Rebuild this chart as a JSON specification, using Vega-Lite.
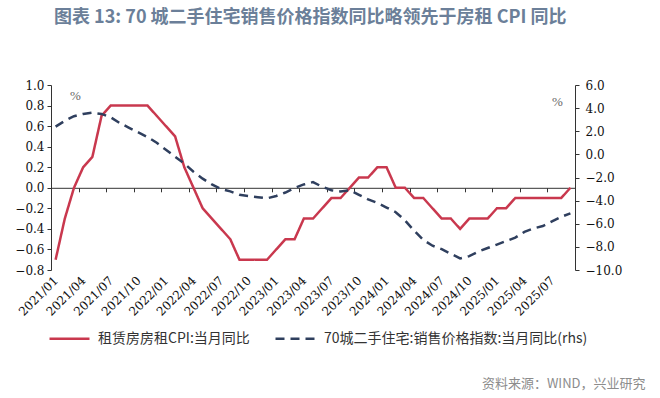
{
  "$schema": "https://vega.github.io/schema/vega-lite/v6.json",
  "width": 524,
  "height": 185,
  "autosize": {"type": "none"},
  "padding": {"left": 51, "top": 85, "right": 85, "bottom": 128},
  "background": "white",
  "title": {
    "text": "图表 13: 70 城二手住宅销售价格指数同比略领先于房租 CPI 同比",
    "anchor": "start",
    "frame": "group",
    "dx": 3,
    "offset": 52,
    "font": "Noto Sans CJK SC",
    "fontSize": 18,
    "fontWeight": "bold",
    "color": "#6b7f99"
  },
  "config": {
    "view": {"stroke": null},
    "axis": {
      "grid": false,
      "domainColor": "#333333",
      "tickColor": "#333333",
      "labelFont": "DejaVu Serif",
      "labelFontSize": 12,
      "labelColor": "#111111"
    },
    "legend": {
      "orient": "none",
      "legendX": -3,
      "legendY": 232,
      "direction": "horizontal",
      "symbolType": "stroke",
      "symbolSize": 1600,
      "symbolStrokeWidth": 2.5,
      "labelFont": "Noto Sans CJK SC",
      "labelFontSize": 14,
      "labelColor": "#333333",
      "labelLimit": 400,
      "columnPadding": 20,
      "labelOffset": 7
    }
  },
  "data": {
    "values": [
      {"d": "2021/01", "a": -0.7, "b": 2.4},
      {"d": "2021/02", "a": -0.3, "b": 2.9},
      {"d": "2021/03", "a": 0.0, "b": 3.3},
      {"d": "2021/04", "a": 0.2, "b": 3.5},
      {"d": "2021/05", "a": 0.3, "b": 3.6},
      {"d": "2021/06", "a": 0.7, "b": 3.5},
      {"d": "2021/07", "a": 0.8, "b": 3.2},
      {"d": "2021/08", "a": 0.8, "b": 2.7},
      {"d": "2021/09", "a": 0.8, "b": 2.3},
      {"d": "2021/10", "a": 0.8, "b": 1.9},
      {"d": "2021/11", "a": 0.8, "b": 1.5},
      {"d": "2021/12", "a": 0.7, "b": 1.0},
      {"d": "2022/01", "a": 0.6, "b": 0.4},
      {"d": "2022/02", "a": 0.5, "b": -0.2},
      {"d": "2022/03", "a": 0.2, "b": -0.8},
      {"d": "2022/04", "a": 0.0, "b": -1.5},
      {"d": "2022/05", "a": -0.2, "b": -2.1},
      {"d": "2022/06", "a": -0.3, "b": -2.6},
      {"d": "2022/07", "a": -0.4, "b": -3.0},
      {"d": "2022/08", "a": -0.5, "b": -3.2},
      {"d": "2022/09", "a": -0.7, "b": -3.5},
      {"d": "2022/10", "a": -0.7, "b": -3.6},
      {"d": "2022/11", "a": -0.7, "b": -3.7},
      {"d": "2022/12", "a": -0.7, "b": -3.8},
      {"d": "2023/01", "a": -0.6, "b": -3.6},
      {"d": "2023/02", "a": -0.5, "b": -3.3},
      {"d": "2023/03", "a": -0.5, "b": -2.9},
      {"d": "2023/04", "a": -0.3, "b": -2.6},
      {"d": "2023/05", "a": -0.3, "b": -2.4},
      {"d": "2023/06", "a": -0.2, "b": -2.8},
      {"d": "2023/07", "a": -0.1, "b": -3.1},
      {"d": "2023/08", "a": -0.1, "b": -3.2},
      {"d": "2023/09", "a": 0.0, "b": -3.1},
      {"d": "2023/10", "a": 0.1, "b": -3.5},
      {"d": "2023/11", "a": 0.1, "b": -3.9},
      {"d": "2023/12", "a": 0.2, "b": -4.2},
      {"d": "2024/01", "a": 0.2, "b": -4.6},
      {"d": "2024/02", "a": 0.0, "b": -5.0},
      {"d": "2024/03", "a": 0.0, "b": -5.7},
      {"d": "2024/04", "a": -0.1, "b": -6.6},
      {"d": "2024/05", "a": -0.1, "b": -7.4},
      {"d": "2024/06", "a": -0.2, "b": -7.9},
      {"d": "2024/07", "a": -0.3, "b": -8.2},
      {"d": "2024/08", "a": -0.3, "b": -8.6},
      {"d": "2024/09", "a": -0.4, "b": -9.0},
      {"d": "2024/10", "a": -0.3, "b": -8.8},
      {"d": "2024/11", "a": -0.3, "b": -8.4},
      {"d": "2024/12", "a": -0.3, "b": -8.1},
      {"d": "2025/01", "a": -0.2, "b": -7.8},
      {"d": "2025/02", "a": -0.2, "b": -7.5},
      {"d": "2025/03", "a": -0.1, "b": -7.2},
      {"d": "2025/04", "a": -0.1, "b": -6.7},
      {"d": "2025/05", "a": -0.1, "b": -6.4},
      {"d": "2025/06", "a": -0.1, "b": -6.2},
      {"d": "2025/07", "a": -0.1, "b": -5.8},
      {"d": "2025/08", "a": -0.1, "b": -5.4},
      {"d": "2025/09", "a": 0.0, "b": -5.1}
    ]
  },
  "transform": [{"fold": ["a", "b"], "as": ["s", "v"]}],
  "layer": [
    {
      "transform": [{"filter": "datum.s === 'a'"}],
      "mark": {"type": "line", "strokeWidth": 2.5},
      "encoding": {
        "x": {
          "field": "d", "type": "ordinal", "sort": null,
          "scale": {"type": "point", "padding": 0.5},
          "axis": {
            "orient": "bottom",
            "offset": 0,
            "domain": false,
            "ticks": false,
            "labelAngle": -45,
            "labelAlign": "right",
            "labelBaseline": "middle",
            "labelPadding": 8,
            "values": ["2021/01","2021/04","2021/07","2021/10","2022/01","2022/04","2022/07","2022/10","2023/01","2023/04","2023/07","2023/10","2024/01","2024/04","2024/07","2024/10","2025/01","2025/04","2025/07"],
            "title": "资料来源：WIND，兴业研究",
            "titleX": 594,
            "titleY": 113,
            "titleAlign": "right",
            "titleAnchor": null,
            "titleBaseline": "middle",
            "titleAngle": 0,
            "titleFont": "Noto Sans CJK SC",
            "titleFontSize": 13,
            "titleFontWeight": "normal",
            "titleColor": "#8c8c8c"
          }
        },
        "y": {
          "field": "v", "type": "quantitative",
          "scale": {"domain": [-0.8, 1.0], "nice": false, "zero": false},
          "axis": {
            "orient": "left",
            "values": [-0.8, -0.6, -0.4, -0.2, 0, 0.2, 0.4, 0.6, 0.8, 1.0],
            "format": ".1f",
            "tickSize": 4,
            "labelPadding": 3,
            "title": "%",
            "titleAngle": 0,
            "titleX": 24,
            "titleY": 10,
            "titleAlign": "center",
            "titleBaseline": "middle",
            "titleFont": "Liberation Serif",
            "titleFontSize": 13,
            "titleFontWeight": "normal",
            "titleColor": "#666666"
          }
        },
        "color": {
          "field": "s", "type": "nominal",
          "scale": {"domain": ["a", "b"], "range": ["#c9384e", "#2f3f5e"]},
          "legend": {"title": null, "labelExpr": "datum.value === 'a' ? '租赁房房租CPI:当月同比' : '70城二手住宅:销售价格指数:当月同比(rhs)'"}
        },
        "strokeDash": {
          "field": "s", "type": "nominal",
          "scale": {"domain": ["a", "b"], "range": [[1, 0], [9, 6]]},
          "legend": {"title": null, "labelExpr": "datum.value === 'a' ? '租赁房房租CPI:当月同比' : '70城二手住宅:销售价格指数:当月同比(rhs)'"}
        }
      }
    },
    {
      "transform": [{"filter": "datum.s === 'b'"}],
      "mark": {"type": "line", "strokeWidth": 2.5},
      "encoding": {
        "x": {
          "field": "d", "type": "ordinal", "sort": null,
          "scale": {"type": "point", "padding": 0.5},
          "axis": {
            "orient": "bottom",
            "offset": -82.2,
            "domain": true,
            "ticks": true,
            "tickSize": 4,
            "tickOffset": -4.6,
            "labels": false,
            "title": null,
            "values": ["2021/04","2021/07","2021/10","2022/01","2022/04","2022/07","2022/10","2023/01","2023/04","2023/07","2023/10","2024/01","2024/04","2024/07","2024/10","2025/01","2025/04","2025/07"]
          }
        },
        "y": {
          "field": "v", "type": "quantitative",
          "scale": {"domain": [-10, 6], "nice": false, "zero": false},
          "axis": {
            "orient": "right",
            "values": [-10, -8, -6, -4, -2, 0, 2, 4, 6],
            "format": ".1f",
            "tickSize": 4,
            "labelPadding": 6,
            "title": "%",
            "titleAngle": 0,
            "titleX": -18,
            "titleY": 16,
            "titleAlign": "center",
            "titleBaseline": "middle",
            "titleFont": "Liberation Serif",
            "titleFontSize": 13,
            "titleFontWeight": "normal",
            "titleColor": "#666666"
          }
        },
        "color": {
          "field": "s", "type": "nominal",
          "scale": {"domain": ["a", "b"], "range": ["#c9384e", "#2f3f5e"]},
          "legend": {"title": null, "labelExpr": "datum.value === 'a' ? '租赁房房租CPI:当月同比' : '70城二手住宅:销售价格指数:当月同比(rhs)'"}
        },
        "strokeDash": {
          "field": "s", "type": "nominal",
          "scale": {"domain": ["a", "b"], "range": [[1, 0], [9, 6]]},
          "legend": {"title": null, "labelExpr": "datum.value === 'a' ? '租赁房房租CPI:当月同比' : '70城二手住宅:销售价格指数:当月同比(rhs)'"}
        }
      }
    }
  ],
  "resolve": {
    "scale": {"y": "independent"},
    "axis": {"x": "independent", "y": "independent"}
  }
}
